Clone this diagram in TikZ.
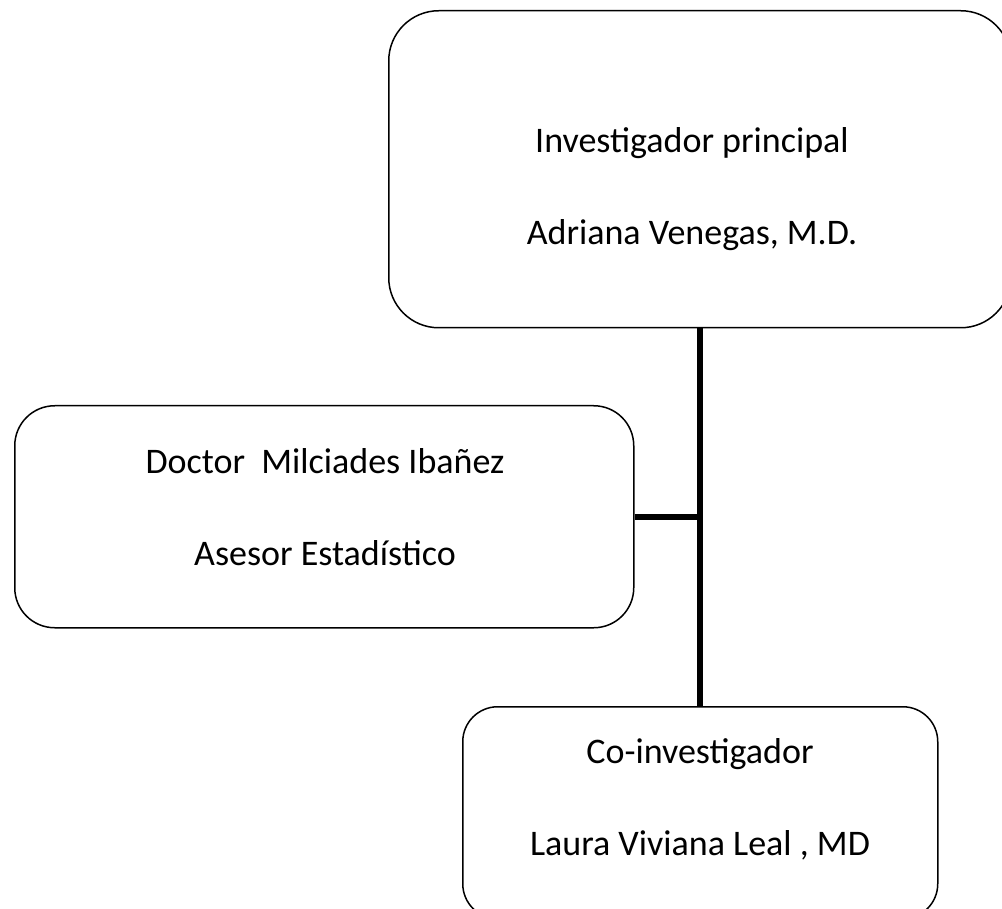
\documentclass[tikz,border=0pt]{standalone}
\usepackage{fontspec}
\setmainfont{Carlito}
\begin{document}
\begin{tikzpicture}[x=1pt,y=-1pt,
	caja/.style={draw, line width=1.5pt, rounded corners=#1, inner sep=0pt},
	linea/.style={line width=6pt},
	txt/.style={anchor=base, inner sep=0pt, font=\fontsize{36}{40}\selectfont}]
	\useasboundingbox (0,0) rectangle (1002,909);
	\clip (0,0) rectangle (1002,909);
	% cajas
	\node[caja=50, minimum width=622, minimum height=317, anchor=north west] (jefe) at (388,10) {};
	\node[caja=40, minimum width=619, minimum height=222, anchor=north west] (asesor) at (14,405) {};
	\node[caja=35, minimum width=475, minimum height=212, anchor=north west] (coinv) at (462,706) {};
	% textos
	\node[txt] (jefe1) at (692,153) {Investigador principal};
	\node[txt] (jefe2) at (692,245) {Adriana Venegas, M.D.};
	\node[txt] (ase1) at (325,473) {Doctor\ \ Milciades Ibañez};
	\node[txt] (ase2) at (325,565) {Asesor Estadístico};
	\node[txt] (co1) at (700,763) {Co-investigador};
	\node[txt] (co2) at (700,855) {Laura Viviana Leal , MD};
	% lineas
	\draw[linea] (jefe.south) -- (jefe.south |- coinv.north);
	\draw[linea] (asesor.east) -- (asesor.east -| jefe.south);
\end{tikzpicture}
\end{document}
